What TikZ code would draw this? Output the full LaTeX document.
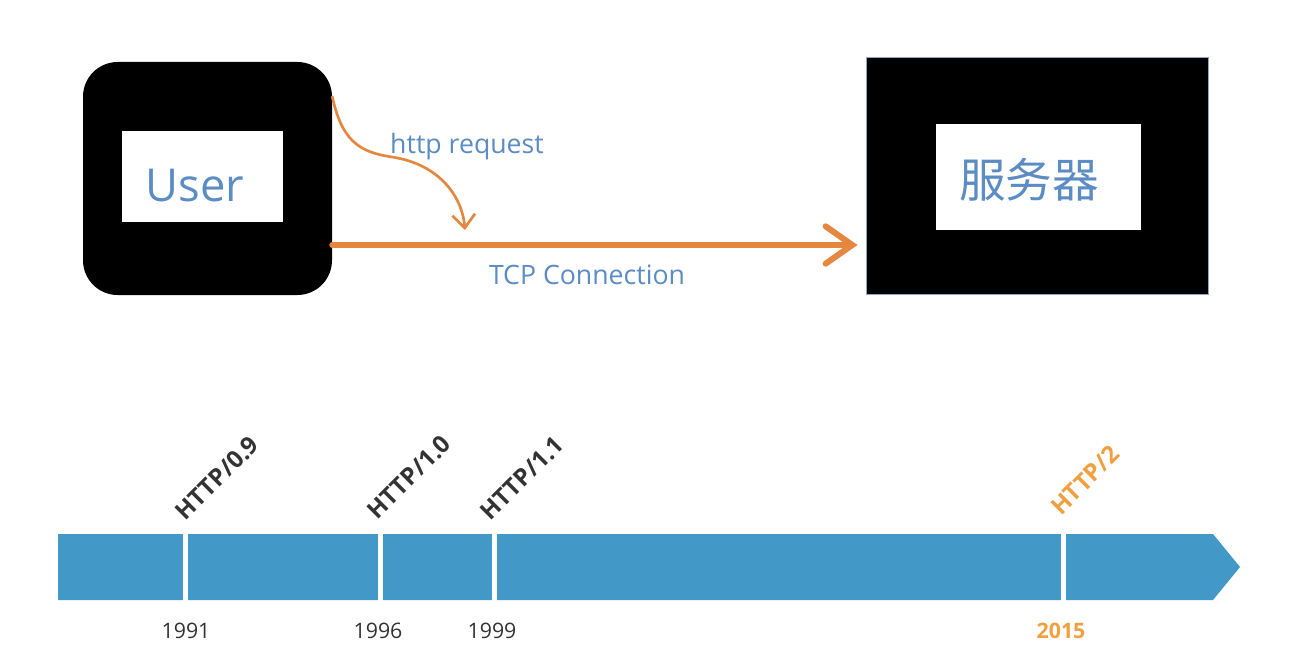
\documentclass[tikz,border=0pt]{standalone}
\usepackage{fontspec}
\setmainfont{Open Sans}
\newfontfamily\cjk{Noto Sans CJK SC}
\usetikzlibrary{arrows.meta,calc}

\definecolor{boxtext}{RGB}{91,140,196}
\definecolor{linkorange}{RGB}{229,135,62}
\definecolor{barblue}{RGB}{66,153,200}
\definecolor{verdark}{RGB}{51,51,51}
\definecolor{neworange}{RGB}{240,160,64}

\tikzset{
  blackbox/.style={fill=black,inner sep=0pt},
  whitebox/.style={fill=white,inner sep=0pt,text=boxtext},
  link/.style={draw=linkorange,line cap=round},
  version/.style={rotate=45,anchor=south west,inner sep=0pt,font=\fontsize{18}{18}\selectfont\bfseries,text=verdark},
  year/.style={anchor=north,inner sep=0pt,font=\fontsize{16}{16}\selectfont,text=verdark},
  sep/.style={draw=white,line width=3.75pt}
}

\begin{document}
\begin{tikzpicture}[x=0.75pt,y=0.75pt,yscale=-1,xscale=1]
\useasboundingbox (0,0) rectangle (1298,660);
\fill[white] (0,0) rectangle (1298,660);

%Rounded Rect [User]
\node [blackbox,rounded corners=26pt,minimum width=186.75pt,minimum height=174.75pt] (user) at (207.5,178.5) {};
\node [whitebox,minimum width=120.75pt,minimum height=68.25pt] (userlabel) at (202.5,176.5) {};
\node [text=boxtext,inner sep=0pt,font=\fontsize{34}{34}\selectfont] (usertext) at (195,186) {User};

%Rect [server]
\node [blackbox,draw={rgb,255:red,140;green,165;blue,200},line width=0.75pt,minimum width=256.5pt,minimum height=177pt] (server) at (1037,176) {};
\node [whitebox,minimum width=153.75pt,minimum height=79.5pt] (serverlabel) at (1038.5,177) {};
\node [text=boxtext,inner sep=0pt,font=\cjk\fontsize{35}{35}\selectfont] (servertext) at (1029,180) {服务器};

%Straight Lines [TCP]
\coordinate (tcpy) at (0,245);
\draw [link,line width=4.5pt,-{Straight Barb[length=20pt,width=28pt,line cap=round]},shorten >=6pt] (user.east |- tcpy) -- (server.west |- tcpy);

%Curve Lines [request]
\coordinate (reqstart) at ($(user.north east)+(0,35)$);
\coordinate (reqend) at (465,230);
\draw [link,line width=2pt,-{Straight Barb[length=10pt,width=17pt]}] (reqstart) .. controls (342,140) and (358,152) .. (392,157) .. controls (438,164) and (462,195) .. (reqend);

% Text Node
\node [text=boxtext,font=\fontsize{20}{20}\selectfont] (reqlabel) at (467,147) {http request};
% Text Node
\node [text=boxtext,font=\fontsize{20}{20}\selectfont] (tcplabel) at (587,275) {TCP Connection};

%Shape: timeline
\fill [barblue] (58,534) -- (1213,534) -- (1240,567) -- (1213,600) -- (58,600) -- cycle;
\foreach \x in {185,380,494,1063}
  \draw [sep] (\x,533) -- (\x,601);

% Text Node
\node [version] (v09) at (186,522) {HTTP/0.9};
\node [version] (v10) at (378,521) {HTTP/1.0};
\node [version] (v11) at (491,522) {HTTP/1.1};
\node [version,text=neworange] (v2) at (1061,517) {HTTP/2};

% Text Node
\node [year] (y1991) at (186,623) {1991};
\node [year] (y1996) at (378,623) {1996};
\node [year] (y1999) at (492,623) {1999};
\node [year,text=neworange,font=\fontsize{16}{16}\selectfont\bfseries] (y2015) at (1061,623) {2015};
\end{tikzpicture}
\end{document}
